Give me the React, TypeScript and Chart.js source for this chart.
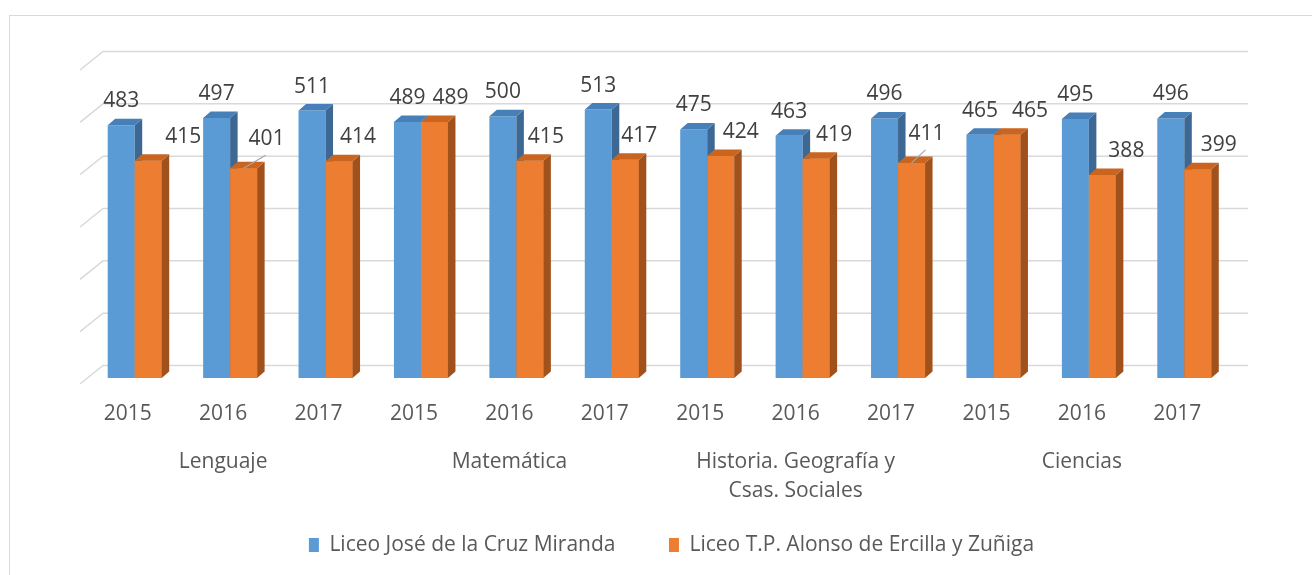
import React, { useEffect, useRef } from 'react';
import { Chart, registerables } from 'chart.js';

Chart.register(...registerables);

// ---- data ----
const SUBJECTS: (string | string[])[] = ['Lenguaje', 'Matemática', ['Historia. Geografía y', 'Csas. Sociales'], 'Ciencias'];
const YEARS = ['2015', '2016', '2017'];
const SERIES_NAMES = ['Liceo José de la Cruz Miranda', 'Liceo T.P. Alonso de Ercilla y Zuñiga'];
const JOSE_CRUZ = [483, 497, 511, 489, 500, 513, 475, 463, 496, 465, 495, 496];
const ALONSO_ERCILLA = [415, 401, 414, 489, 415, 417, 424, 419, 411, 465, 388, 399];
const Y_MIN = 0;
const Y_MAX = 600;
const Y_STEP = 100;

// ---- style ----
const FONT = '"Open Sans", sans-serif';
const TEXT = '#595959';
const LABEL_TEXT = '#404040';
const GRID = '#d9d9d9';
const BLUE = { front: '#5b9bd5', top: '#477fb8', side: '#3c6893' };
const ORANGE = { front: '#ed7d31', top: '#c9651f', side: '#a1521c' };
const BAR_DX = 7.5;
const BAR_DY = 6.5;
const WALL_DY = 12.5;
const ORANGE_LABEL_DX = [35, 23, 19, 16, 16, 14, 20, 18, 15, 23, 24, 21];
const ORANGE_LEADER = [false, true, false, false, false, false, false, false, true, false, false, false];
const LEGEND_SHIFT_X = 12;
const LEGEND_SHIFT_Y = -27;

const CATEGORY_LABELS = SUBJECTS.flatMap(() => YEARS);
const SUBJECT_KEYS = SUBJECTS.map((s) => (Array.isArray(s) ? s.join(' ') : s));

function drawFaces(ctx: CanvasRenderingContext2D, el: any, colors: { top: string; side: string }) {
  const { x, y, base, width } = el.getProps(['x', 'y', 'base', 'width'], true);
  const l = x - width / 2;
  const r = x + width / 2;
  ctx.fillStyle = colors.side;
  ctx.beginPath();
  ctx.moveTo(r, y);
  ctx.lineTo(r + BAR_DX, y - BAR_DY);
  ctx.lineTo(r + BAR_DX, base - BAR_DY);
  ctx.lineTo(r, base);
  ctx.closePath();
  ctx.fill();
  ctx.fillStyle = colors.top;
  ctx.beginPath();
  ctx.moveTo(l, y);
  ctx.lineTo(l + BAR_DX, y - BAR_DY);
  ctx.lineTo(r + BAR_DX, y - BAR_DY);
  ctx.lineTo(r, y);
  ctx.closePath();
  ctx.fill();
}

const depthPlugin = {
  id: 'depth3d',
  afterLayout(chart: any) {
    const lg = chart.legend;
    if (lg) {
      lg.left += LEGEND_SHIFT_X;
      lg.right += LEGEND_SHIFT_X;
      lg.top += LEGEND_SHIFT_Y;
      lg.bottom += LEGEND_SHIFT_Y;
    }
  },
  beforeDatasetsDraw(chart: any) {
    const { ctx, chartArea } = chart;
    const yScale = chart.scales.y;
    ctx.save();
    ctx.strokeStyle = GRID;
    ctx.lineWidth = 1.5;
    for (let v = yScale.min; v <= yScale.max; v += Y_STEP) {
      const yb = yScale.getPixelForValue(v) - WALL_DY;
      ctx.beginPath();
      ctx.moveTo(chartArea.left - 7, yb + 18.5);
      ctx.lineTo(chartArea.left + 16, yb);
      ctx.lineTo(chartArea.right + 16, yb);
      ctx.stroke();
    }
    ctx.restore();
  },
  afterDatasetsDraw(chart: any) {
    const ctx: CanvasRenderingContext2D = chart.ctx;
    const m0 = chart.getDatasetMeta(0);
    const m1 = chart.getDatasetMeta(1);
    ctx.save();
    m0.data.forEach((el: any) => drawFaces(ctx, el, BLUE));
    m1.data.forEach((el: any) => {
      el.draw(ctx);
      drawFaces(ctx, el, ORANGE);
    });
    ctx.font = `21px ${FONT}`;
    ctx.fillStyle = LABEL_TEXT;
    ctx.textAlign = 'center';
    ctx.textBaseline = 'middle';
    m0.data.forEach((el: any, i: number) => {
      const { x, y } = el.getProps(['x', 'y'], true);
      ctx.fillText(String(chart.data.datasets[0].data[i]), x, y - 24);
    });
    m1.data.forEach((el: any, i: number) => {
      const { x, y } = el.getProps(['x', 'y'], true);
      const lx = x + ORANGE_LABEL_DX[i];
      const ly = y - (ORANGE_LEADER[i] ? 29 : 24);
      ctx.fillStyle = LABEL_TEXT;
      ctx.fillText(String(chart.data.datasets[1].data[i]), lx, ly);
      if (ORANGE_LEADER[i]) {
        ctx.strokeStyle = '#a6a6a6';
        ctx.lineWidth = 1.2;
        ctx.beginPath();
        ctx.moveTo(lx - 1, ly + 16);
        ctx.lineTo(x, y);
        ctx.stroke();
      }
    });
    ctx.restore();
  },
};

export default function App() {
  const ref = useRef<HTMLCanvasElement | null>(null);
  useEffect(() => {
    if (!ref.current) return;
    const chart = new Chart(ref.current, {
      type: 'bar',
      data: {
        labels: CATEGORY_LABELS,
        datasets: [
          {
            label: SERIES_NAMES[0],
            data: JOSE_CRUZ,
            backgroundColor: BLUE.front,
            borderWidth: 0,
            xAxisID: 'x',
            yAxisID: 'y',
            categoryPercentage: 0.566,
            barPercentage: 1,
          },
          {
            label: SERIES_NAMES[1],
            data: ALONSO_ERCILLA,
            backgroundColor: ORANGE.front,
            borderWidth: 0,
            xAxisID: 'x',
            yAxisID: 'y',
            categoryPercentage: 0.566,
            barPercentage: 1,
          },
        ],
      },
      options: {
        responsive: false,
        maintainAspectRatio: false,
        animation: false,
        layout: { padding: { left: 77, right: 80, top: 48, bottom: -17.5 } },
        scales: {
          x: {
            type: 'category',
            position: 'bottom',
            weight: 0,
            grid: { display: false, drawTicks: false },
            border: { display: false },
            ticks: {
              padding: 23,
              labelOffset: -7,
              autoSkip: false,
              maxRotation: 0,
              color: TEXT,
              font: { family: FONT, size: 21 },
            },
            afterFit: (s: any) => {
              s.height = 48;
            },
          },
          x2: {
            type: 'category',
            position: 'bottom',
            labels: SUBJECT_KEYS,
            weight: 1,
            grid: { display: false, drawTicks: false },
            border: { display: false },
            ticks: {
              padding: 22,
              labelOffset: -7,
              autoSkip: false,
              maxRotation: 0,
              color: TEXT,
              font: { family: FONT, size: 21, lineHeight: 1.38 },
              callback: (_v: any, i: number) => SUBJECTS[i],
            },
            afterFit: (s: any) => {
              s.height = 82;
            },
          },
          y: {
            display: false,
            min: Y_MIN,
            max: Y_MAX,
            ticks: { stepSize: Y_STEP },
            grid: { display: false },
          },
        },
        plugins: {
          tooltip: { enabled: false },
          legend: {
            position: 'bottom',
            labels: {
              boxWidth: 10,
              boxHeight: 14,
              padding: 53.5,
              color: TEXT,
              font: { family: FONT, size: 21 },
            },
          },
        },
      } as any,
      plugins: [depthPlugin],
    });
    return () => chart.destroy();
  }, []);

  return (
    <div
      style={{
        position: 'fixed',
        left: 9,
        top: 15,
        width: 1303,
        height: 560,
        borderLeft: `1px solid ${GRID}`,
        borderTop: `1px solid ${GRID}`,
        boxSizing: 'border-box',
        background: '#fff',
      }}
    >
      <canvas ref={ref} width={1302} height={559} style={{ display: 'block', width: 1302, height: 559 }} />
    </div>
  );
}
